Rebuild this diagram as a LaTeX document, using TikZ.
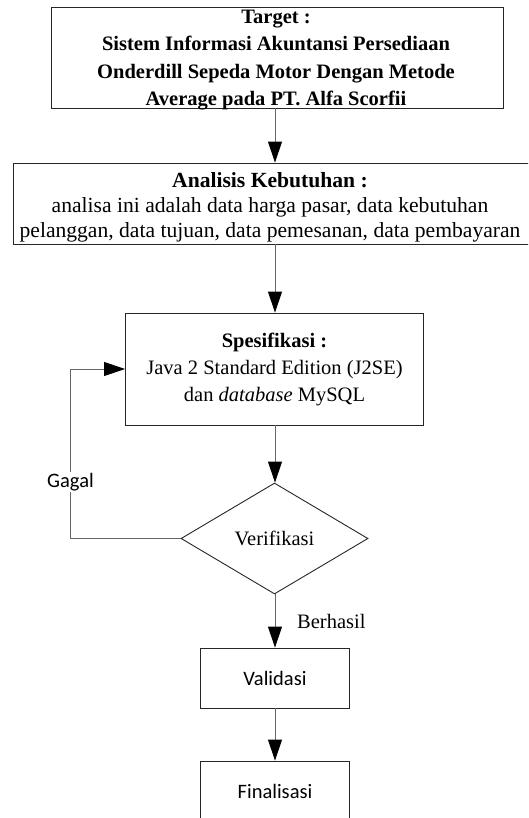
\documentclass[tikz,border=0pt]{standalone}
\usepackage{fontspec}
\setmainfont{Liberation Serif}
\newfontfamily\calfont{Carlito}
\usetikzlibrary{arrows.meta,shapes.geometric}
\begin{document}
\begin{tikzpicture}[x=1pt,y=-1pt,
  box/.style={draw=black!85, line width=0.9pt, rectangle, inner sep=0pt, align=center, font=\fontsize{20.5}{27}\selectfont},
  cbox/.style={box, font=\calfont\fontsize{20.5}{27}\selectfont},
  txt/.style={inner sep=0pt, align=center},
  conn/.style={draw=black!60, line width=1pt, -{Triangle[length=21pt,width=14pt,black]}},
  lbl/.style={inner sep=1pt, font=\fontsize{20.5}{24}\selectfont}
  ]
\useasboundingbox (0,0) rectangle (528,818);
\clip (0,0) rectangle (528,818);
\coordinate (ax) at (275,0);
\coordinate (gx) at (70.5,0);
\node[box, minimum width=452pt, minimum height=101pt] (T) at (277,57.5) {};
\node[txt, font=\fontsize{20.5}{27.5}\selectfont] (Tt) at (276,60)
  {\textbf{Target :}\\\textbf{Sistem Informasi Akuntansi Persediaan}\\\textbf{Onderdill Sepeda Motor Dengan Metode}\\\textbf{Average pada PT. Alfa Scorfii}};
\node[box, minimum width=528pt, minimum height=81pt] (A) at (277,203.5) {};
\node[txt, font=\fontsize{21.6}{25}\selectfont] (At) at (270,207)
  {\textbf{Analisis Kebutuhan :}\\analisa ini adalah data harga pasar, data kebutuhan\\pelanggan, data tujuan, data pemesanan, data pembayaran};
\node[box, minimum width=298pt, minimum height=112pt] (S) at (274.5,369)
  {\textbf{Spesifikasi :}\\Java 2 Standard Edition (J2SE)\\dan \textit{database} MySQL};
\node[box, diamond, minimum width=187pt, minimum height=111pt] (D) at (274.5,538.5) {Verifikasi};
\node[cbox, minimum width=149pt, minimum height=60pt] (V) at (275,678) {Validasi};
\node[cbox, minimum width=149pt, minimum height=60pt] (F) at (275,791) {Finalisasi};
\draw[conn] (T.south -| ax) -- (A.north -| ax);
\draw[conn] (A.south -| ax) -- (S.north -| ax);
\draw[conn] (S.south -| ax) -- (D.north -| ax);
\draw[conn] (D.south -| ax) -- (V.north -| ax);
\draw[conn] (V.south -| ax) -- (F.north -| ax);
\draw[conn] (D.west) -- (D.west -| gx) -- (S.west -| gx) -- (S.west);
\node[lbl, fill=white, font=\calfont\fontsize{20.5}{24}\selectfont] (g) at (70.5,482) {Gagal};
\node[lbl, anchor=west] (b) at (296,621) {Berhasil};
\end{tikzpicture}
\end{document}
